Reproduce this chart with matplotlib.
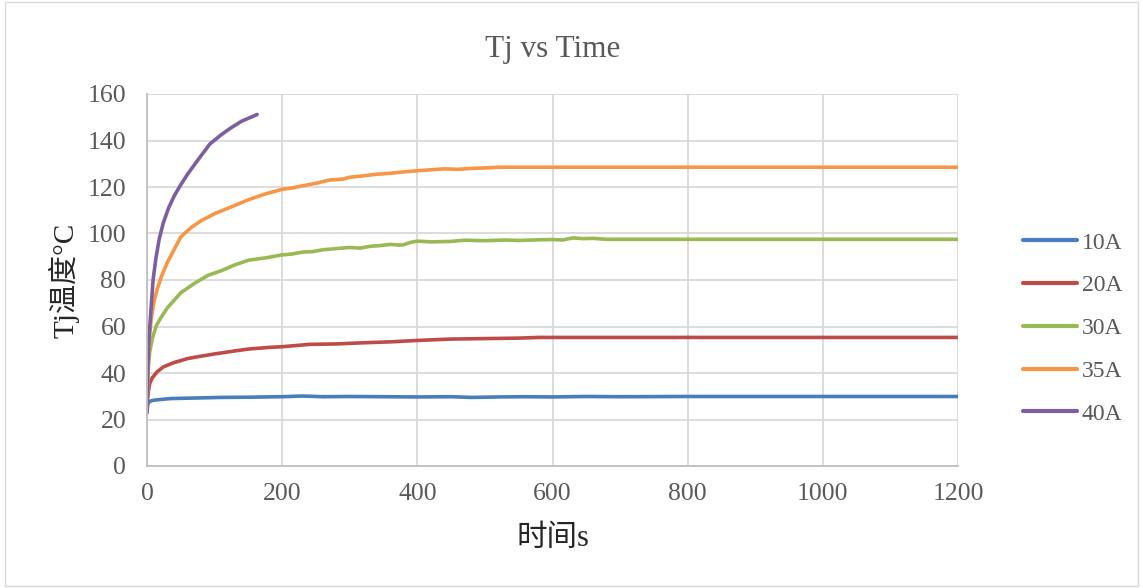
import matplotlib.pyplot as plt
from matplotlib.patches import Rectangle

# data (time s, Tj degC)
t_10A = [0, 1, 3, 6, 10, 20, 35, 50, 80, 110, 150, 200, 230, 260, 300, 350, 400, 450, 480, 520, 560, 600, 650, 700, 800, 900, 1000, 1100, 1200]
tj_10A = [23, 26.5, 27.5, 28, 28.3, 28.6, 29.0, 29.1, 29.3, 29.5, 29.6, 29.8, 30.1, 29.8, 29.9, 29.8, 29.7, 29.8, 29.5, 29.7, 29.8, 29.7, 29.9, 29.8, 29.9, 29.9, 29.9, 29.9, 29.9]

t_20A = [0, 1, 2, 4, 8, 15, 24, 40, 60, 75, 100, 130, 150, 180, 200, 240, 280, 320, 360, 400, 450, 500, 550, 580, 650, 800, 1000, 1200]
tj_20A = [23, 29, 32, 35.5, 38, 40.5, 42.6, 44.5, 46.2, 47, 48.2, 49.5, 50.3, 51, 51.3, 52.3, 52.5, 53, 53.4, 54, 54.6, 54.8, 55, 55.3, 55.3, 55.3, 55.3, 55.3]

t_30A = [0, 1, 2, 4, 8, 14, 20, 30, 50, 70, 90, 110, 130, 150, 175, 200, 215, 230, 245, 260, 280, 300, 315, 330, 345, 360, 375, 380, 390, 400, 420, 450, 470, 500, 530, 550, 580, 600, 615, 630, 645, 660, 680, 800, 1000, 1200]
tj_30A = [23, 36, 42, 49, 55, 60.5, 63.5, 68, 74.5, 78.5, 82, 84, 86.5, 88.5, 89.5, 90.8, 91.2, 92, 92.2, 93, 93.5, 94, 93.7, 94.5, 94.8, 95.3, 95.0, 95.2, 96.2, 96.7, 96.4, 96.6, 97.1, 96.9, 97.2, 97.0, 97.3, 97.4, 97.2, 98.1, 97.8, 97.9, 97.5, 97.5, 97.5, 97.5]

t_35A = [0, 1, 2, 4, 7, 11, 15, 22, 30, 40, 50, 65, 80, 100, 125, 150, 175, 200, 215, 230, 250, 270, 290, 300, 320, 340, 360, 380, 400, 420, 440, 460, 480, 500, 520, 600, 800, 1000, 1200]
tj_35A = [23, 40, 48, 57, 65, 71.5, 76, 82, 87.5, 93, 98.5, 102.5, 105.5, 108.5, 111.5, 114.5, 117, 119, 119.6, 120.5, 121.6, 123, 123.4, 124.2, 124.8, 125.5, 125.9, 126.5, 127, 127.4, 127.8, 127.6, 128, 128.2, 128.5, 128.5, 128.5, 128.5, 128.5]

t_40A = [0, 0.5, 1.5, 3, 4.5, 7, 9, 13, 18, 24, 32, 40, 49, 60, 75, 93, 110, 123, 140, 160, 163]
tj_40A = [23, 33, 45, 55, 61.5, 72, 80, 89, 97.5, 104.5, 111, 116, 120.5, 125.5, 131.5, 138.5, 142.5, 145.2, 148.3, 150.8, 151.2]

series = [("10A", t_10A, tj_10A, "#4a7ebb"),
          ("20A", t_20A, tj_20A, "#be4b48"),
          ("30A", t_30A, tj_30A, "#98b954"),
          ("35A", t_35A, tj_35A, "#f79646"),
          ("40A", t_40A, tj_40A, "#7d5fa0")]

fam = ['Liberation Serif', 'Noto Sans CJK SC']
plt.rcParams['font.family'] = fam

fig = plt.figure(figsize=(11.43, 5.88), dpi=100)
ax = fig.add_axes([147 / 1143, 122 / 588, 811 / 1143, 372 / 588])

for name, t, y, c in series:
    ax.plot(t, y, color=c, lw=2.6, label=name, solid_capstyle='round')

ax.set_xlim(0, 1200)
ax.set_ylim(0, 160)
ax.set_xticks(range(0, 1201, 200))
ax.set_yticks(range(0, 161, 20))
ax.grid(True, color='#d9d9d9', lw=1.3)
ax.set_axisbelow(True)
for s in ['top', 'right']:
    ax.spines[s].set_visible(False)
for s in ['left', 'bottom']:
    ax.spines[s].set_color('#bfbfbf')
    ax.spines[s].set_linewidth(1.3)
ax.tick_params(length=0, labelsize=18.5, labelcolor='#595959')
ax.tick_params(axis='y', pad=15)
ax.tick_params(axis='x', pad=12)

ax.set_title('Tj vs Time', fontsize=22.5, color='#595959', pad=27)
ax.set_xlabel('时间s', fontsize=22, color='#262626', labelpad=14)
ax.set_ylabel('Tj温度°C', fontsize=21, color='#262626', labelpad=6)

leg = ax.legend(loc='center left', bbox_to_anchor=(1.08, 0.37), frameon=False,
                fontsize=17, handlelength=2.3, labelspacing=0.9, handletextpad=0.2,
                borderpad=0, borderaxespad=0)
for txt in leg.get_texts():
    txt.set_color('#595959')
for line in leg.get_lines():
    line.set_linewidth(3)

fig.patches.append(Rectangle((0.004, 0.004), 0.992, 0.992, transform=fig.transFigure,
                             fill=False, edgecolor='#d9d9d9', lw=1))

fig.savefig('out.png', dpi=100)
